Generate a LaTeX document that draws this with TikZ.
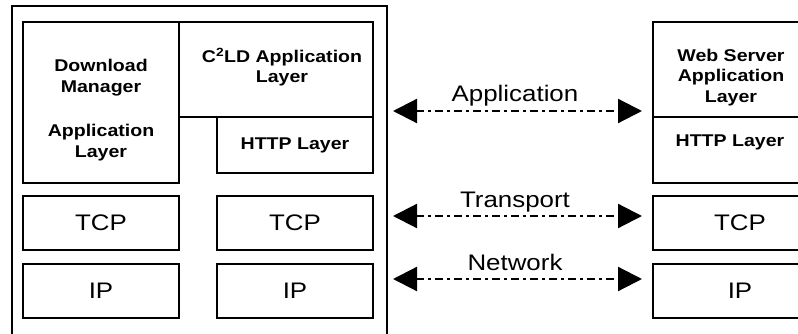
\documentclass[tikz,border=0pt]{standalone}
\usepackage{fontspec}
\setmainfont{Liberation Sans}[FakeStretch=1.15]
\usetikzlibrary{arrows.meta}

\tikzset{
  layer/.style={draw,line width=2.4pt,inner sep=0pt,minimum width=156pt,minimum height=54pt,
    font=\fontsize{22.5}{27}\selectfont},
  layertext/.style={align=center,inner sep=0pt,font=\fontsize{17}{20.5}\selectfont\bfseries},
  link/.style={line width=2.2pt,dash pattern=on 8pt off 4pt on 3pt off 4pt,
    {Triangle[length=24pt,width=24pt]}-{Triangle[length=24pt,width=24pt]}},
  linklabel/.style={anchor=base,inner sep=0pt,font=\fontsize{22.5}{27}\selectfont}
}

\begin{document}
\begin{tikzpicture}[x=1pt,y=-1pt]
  \useasboundingbox (0,0) rectangle (798,334);
  \clip (0,0) rectangle (798,334);
  % client host
  \node[draw,line width=2pt,minimum width=375pt,minimum height=340pt] (host) at (199.5,176) {};
  \node[layer,minimum height=161pt] (dm) at (101,102.5) {};
  \node[layertext] (dmtext) at (101,110) {Download\\Manager\\[24pt]Application\\Layer};
  \node[layer,minimum width=194pt,minimum height=95pt] (c2ld) at (276,69.5) {};
  \node[layertext] (c2ldtext) at (282,67) {C\textsuperscript{2}LD Application\\Layer};
  \node[layer,minimum height=56pt] (http) at (295,145) {\textbf{\fontsize{17}{20.5}\selectfont HTTP Layer}};
  \node[layer] (tcpa) at (101,223) {TCP};
  \node[layer] (tcpb) at (295,223) {TCP};
  \node[layer] (ipa) at (101,291) {IP};
  \node[layer] (ipb) at (295,291) {IP};
  % server host
  \node[layer,minimum width=174pt,minimum height=95pt] (ws) at (740,69.5) {};
  \node[layertext] (wstext) at (731,77.5) {Web Server\\Application\\Layer};
  \node[layer,minimum width=174pt,minimum height=66pt] (httpr) at (740,150) {};
  \node[layertext] (httprtext) at (730,142.5) {HTTP Layer};
  \node[layer,minimum width=174pt] (tcpr) at (740,223) {TCP};
  \node[layer,minimum width=174pt] (ipr) at (740,291) {IP};
  % peer links
  \foreach \y/\name/\txt in {111/app/Application,216/tra/Transport,279/net/Network}{
    \coordinate (\name-l) at (393,\y);
    \coordinate (\name-r) at (642,\y);
    \draw[link] (\name-l) -- (\name-r);
    \node[linklabel] (\name-text) at (515,\y-9) {\txt};
  }
\end{tikzpicture}
\end{document}
